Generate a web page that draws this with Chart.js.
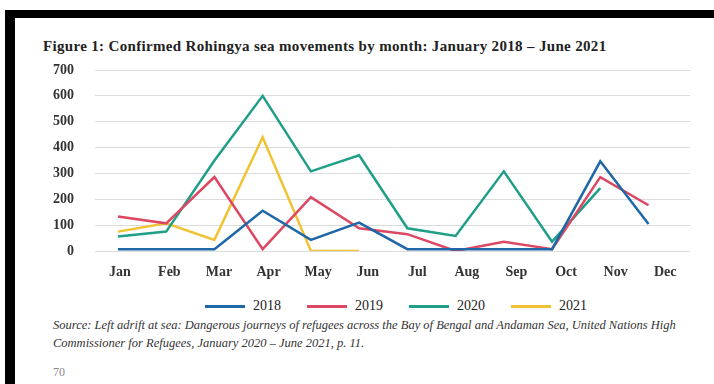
<!DOCTYPE html>
<html>
<head>
<meta charset="utf-8">
<script src="https://cdn.jsdelivr.net/npm/chart.js@4.4.1/dist/chart.umd.min.js"></script>
<style>
  body { margin: 0; background: #fff; width: 714px; height: 384px; overflow: hidden; position: relative; font-family: "Liberation Serif", serif; }
  .bar-top { position: absolute; left: 5px; top: 10px; right: 0; height: 8px; background: #000; }
  .bar-left { position: absolute; left: 5px; top: 10px; width: 10px; bottom: 0; background: #000; }
  #title { position: absolute; left: 43px; top: 38px; font-size: 15px; line-height: 16px; letter-spacing: 0.33px; font-weight: bold; color: #222; white-space: nowrap; }
  #wrap { position: absolute; left: 0; top: 0; width: 714px; height: 290px; }
  #legend { position: absolute; left: 205px; top: 298px; display: flex; font-family: "Liberation Serif", serif; font-size: 14px; line-height: 16px; color: #222; }
  #legend .item { display: flex; align-items: center; margin-right: 26px; }
  #legend .swatch { width: 40px; height: 3px; margin-right: 8px; }
  #source { position: absolute; left: 53px; top: 316px; width: 660px; font-size: 12.5px; line-height: 18px; font-style: italic; color: #333; }
  #page { position: absolute; left: 53px; top: 365px; font-size: 12px; color: #888; }
</style>
</head>
<body>
<div class="bar-top"></div>
<div class="bar-left"></div>
<div id="title">Figure 1: Confirmed Rohingya sea movements by month: January 2018 – June 2021</div>
<div id="wrap"><canvas id="chart" width="714" height="290"></canvas></div>
<div id="legend"></div>
<div id="source">Source: Left adrift at sea: Dangerous journeys of refugees across the Bay of Bengal and Andaman Sea, United Nations High Commissioner for Refugees, January 2020 – June 2021, p. 11.</div>
<div id="page">70</div>
<script>
const months = ['Jan', 'Feb', 'Mar', 'Apr', 'May', 'Jun', 'Jul', 'Aug', 'Sep', 'Oct', 'Nov', 'Dec'];
const years = ['2018', '2019', '2020', '2021'];
const v2018 = [7, 7, 7, 156, 43, 110, 7, 7, 7, 7, 347, 104];
const v2019 = [133, 107, 286, 7, 208, 88, 65, 0, 36, 7, 286, 177];
const v2020 = [56, 75, 350, 600, 308, 370, 88, 58, 308, 36, 243, null];
const v2021 = [75, 107, 43, 440, 0, 0, null, null, null, null, null, null];
const yMax = 700;
const yStep = 100;
const colors = ['#1f67a6', '#dc4862', '#1f9e88', '#f1c232'];

const tickFont = { family: 'Liberation Serif', size: 14, weight: 'bold' };

function points(values) {
  return values.map((v, i) => ({ x: i, y: v }));
}

const chart = new Chart(document.getElementById('chart'), {
  type: 'line',
  data: {
    labels: months,
    datasets: [v2018, v2019, v2020, v2021].map((vals, i) => ({
      label: years[i],
      data: points(vals),
      xAxisID: 'xd',
      borderColor: colors[i],
      backgroundColor: colors[i],
      borderWidth: 2.5,
      pointRadius: 0,
      tension: 0,
      spanGaps: false
    }))
  },
  options: {
    responsive: false,
    animation: false,
    layout: { padding: { left: 40, right: 24, top: 70, bottom: 9 } },
    plugins: {
      legend: { display: false },
      tooltip: { enabled: false }
    },
    scales: {
      x: {
        type: 'category',
        offset: true,
        grid: { display: false, drawTicks: false },
        border: { display: false },
        ticks: { color: '#333', font: tickFont, padding: 13, maxRotation: 0 },
        afterFit: s => { s.height = 30; }
      },
      xd: {
        type: 'linear',
        display: false,
        min: -0.476,
        max: 11.86
      },
      y: {
        min: 0,
        max: yMax,
        grid: { color: '#dcdcdc', lineWidth: 1, drawTicks: false },
        border: { display: false },
        ticks: { stepSize: yStep, color: '#333', font: tickFont, padding: 21 },
        afterFit: s => { s.width = 55; }
      }
    }
  }
});

// legend built from the chart's own legend items
const legendEl = document.getElementById('legend');
chart.options.plugins.legend.labels.generateLabels(chart).forEach(item => {
  const div = document.createElement('div');
  div.className = 'item';
  const sw = document.createElement('span');
  sw.className = 'swatch';
  sw.style.background = item.strokeStyle;
  const tx = document.createElement('span');
  tx.textContent = item.text;
  div.appendChild(sw);
  div.appendChild(tx);
  legendEl.appendChild(div);
});
</script>
</body>
</html>
